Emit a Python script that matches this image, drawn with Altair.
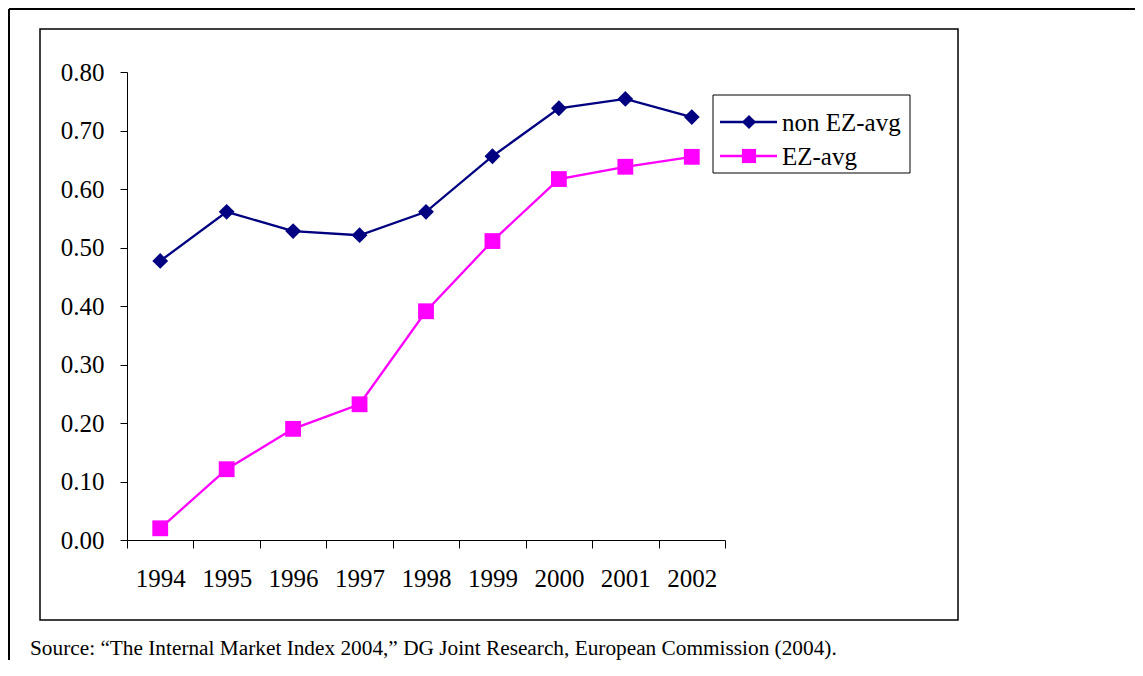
import altair as alt
import pandas as pd

years = ["1994", "1995", "1996", "1997", "1998", "1999", "2000", "2001", "2002"]
non_ez = [0.477, 0.561, 0.528, 0.521, 0.561, 0.656, 0.738, 0.754, 0.723]
ez = [0.020, 0.121, 0.190, 0.232, 0.391, 0.511, 0.617, 0.638, 0.655]
series_names = ["non EZ-avg", "EZ-avg"]
series_colors = ["#000080", "#FF00FF"]
series_shapes = ["diamond", "square"]
y_ticks = [0.0, 0.1, 0.2, 0.3, 0.4, 0.5, 0.6, 0.7, 0.8]
source_text = "Source: \u201cThe Internal Market Index 2004,\u201d DG Joint Research, European Commission (2004)."

rows = []
for name, vals in zip(series_names, [non_ez, ez]):
    for yr, v in zip(years, vals):
        rows.append({"year": yr, "value": v, "series": name})
df = pd.DataFrame(rows)

FONT = "Liberation Serif"
W, H = 598, 468

x_enc = alt.X("year:O", sort=years,
              scale=alt.Scale(type="band", paddingInner=0, paddingOuter=0),
              axis=alt.Axis(tickBand="extent", labelAngle=0, tickSize=8, labelPadding=18,
                            title=None, domainColor="#000000", tickColor="#000000",
                            labelFont=FONT, labelFontSize=25, labelColor="#000000"))
y_enc = alt.Y("value:Q", scale=alt.Scale(domain=[0, 0.8], nice=False),
              axis=alt.Axis(values=y_ticks, format=".2f", tickSize=7, labelPadding=16,
                            title=None, grid=False, domainColor="#000000", tickColor="#000000",
                            labelFont=FONT, labelFontSize=25, labelColor="#000000"))
color_enc = alt.Color("series:N", scale=alt.Scale(domain=series_names, range=series_colors), legend=None)
shape_enc = alt.Shape("series:N", scale=alt.Scale(domain=series_names, range=series_shapes), legend=None)

base = alt.Chart(df)
lines = base.mark_line(strokeWidth=2.3).encode(x=x_enc, y=y_enc, color=color_enc, detail="series:N")
points = base.mark_point(filled=True, size=250, opacity=1).encode(x=x_enc, y=y_enc, color=color_enc, shape=shape_enc)

one = alt.Data(values=[{"a": 1}])

inner_frame = alt.Chart(one).mark_rect(fillOpacity=0, stroke="#000000", strokeWidth=1.5).encode(
    x=alt.value(-87), x2=alt.value(831), y=alt.value(-43), y2=alt.value(548))
outer_top = alt.Chart(one).mark_rule(stroke="#000000", strokeWidth=2).encode(
    x=alt.value(-118), x2=alt.value(1100), y=alt.value(-63))
outer_left = alt.Chart(one).mark_rule(stroke="#000000", strokeWidth=2).encode(
    x=alt.value(-118), y=alt.value(-63), y2=alt.value(620))

legend_box = alt.Chart(one).mark_rect(fillOpacity=0, stroke="#000000", strokeWidth=1).encode(
    x=alt.value(586), x2=alt.value(783), y=alt.value(23), y2=alt.value(101))
legend_layers = [legend_box]
for i, (name, col, shp) in enumerate(zip(series_names, series_colors, series_shapes)):
    yy = 50 + i * 34
    legend_layers.append(alt.Chart(one).mark_rule(stroke=col, strokeWidth=2.3).encode(
        x=alt.value(593), x2=alt.value(650), y=alt.value(yy)))
    legend_layers.append(alt.Chart(one).mark_point(filled=True, size=200, opacity=1, shape=shp, color=col).encode(
        x=alt.value(622), y=alt.value(yy)))
    legend_layers.append(alt.Chart(one).mark_text(text=name, font=FONT, fontSize=25, align="left",
                                                  baseline="alphabetic", color="#000000").encode(
        x=alt.value(655), y=alt.value(yy + 9)))

source = alt.Chart(one).mark_text(text=source_text, font=FONT, fontSize=21.3, align="left",
                                  baseline="alphabetic", color="#000000").encode(
    x=alt.value(-97), y=alt.value(583))

chart = alt.layer(outer_top, outer_left, inner_frame, lines, points, *legend_layers, source).properties(
    width=W, height=H,
    autosize=alt.AutoSizeParams(type="none"),
    padding={"left": 119, "top": 64, "right": 410, "bottom": 120},
).configure_view(stroke=None)

chart.save("out.html", embed_options={"renderer": "svg", "actions": False})
